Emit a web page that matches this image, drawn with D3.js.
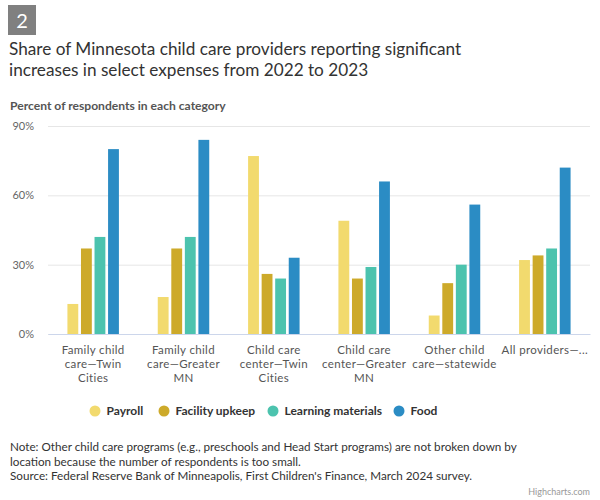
<!DOCTYPE html>
<html><head><meta charset="utf-8">
<script src="https://cdn.jsdelivr.net/npm/d3@7"></script>
<style>
body{margin:0;background:#fff;font-family:Lato,sans-serif;}
svg{display:block}
</style></head>
<body><svg id="chart" width="600" height="500"></svg>
<script>
const categories = [
  ["Family child","care\u2014Twin","Cities"],
  ["Family child","care\u2014Greater","MN"],
  ["Child care","center\u2014Twin","Cities"],
  ["Child care","center\u2014Greater","MN"],
  ["Other child","care\u2014statewide"],
  ["All providers\u2014..."]
];
const seriesNames = ["Payroll","Facility upkeep","Learning materials","Food"];
const seriesColors = ["#f2da6e","#cdaa2a","#4cc3ae","#2b8cc4"];
const payroll = [13,16,77,49,8,32];
const facility = [37,37,26,24,22,34];
const learning = [42,42,24,29,30,37];
const food = [80,84,33,66,56,72];
const yTicks = [0,30,60,90];

const series = [payroll, facility, learning, food];
const svg = d3.select("#chart");
const font = "Lato, sans-serif";

// badge
svg.append("rect").attr("x",8).attr("y",5).attr("width",28).attr("height",30).attr("fill","#808080");
svg.append("text").attr("x",22).attr("y",28).attr("text-anchor","middle").attr("fill","#fff")
  .attr("font-size",20).attr("font-family",font).text("2");

// title
const title = svg.append("text").attr("font-family",font).attr("font-size",17.2).attr("fill","#333");
title.append("tspan").attr("x",9).attr("y",55).text("Share of Minnesota child care providers reporting significant");
title.append("tspan").attr("x",9).attr("y",76).text("increases in select expenses from 2022 to 2023");

svg.append("text").attr("x",10).attr("y",110).attr("font-family",font).attr("font-size",12.1)
  .attr("font-weight","bold").attr("fill","#555").text("Percent of respondents in each category");

const x0 = d3.scaleBand().domain(d3.range(categories.length)).range([48,590]).paddingInner(0).paddingOuter(0);
const y = d3.scaleLinear().domain([0,90]).range([334,126]);

const gy = svg.append("g").attr("transform","translate(48,0)")
  .call(d3.axisLeft(y).tickValues(yTicks).tickSize(-542).tickFormat(d=>d+"%"));
gy.select(".domain").remove();
gy.selectAll(".tick line").attr("stroke","#e6e6e6");
gy.selectAll(".tick text").attr("x",-14).attr("fill","#666").attr("font-size",11).attr("font-family",font);

const bw = x0.bandwidth();
const x1 = d3.scaleBand().domain(d3.range(series.length)).range([bw*0.2, bw*0.8]).paddingInner(0.2).paddingOuter(0.1);

const groups = svg.append("g").selectAll("g").data(categories).join("g")
  .attr("transform",(d,i)=>`translate(${x0(i)},0)`);
groups.selectAll("rect").data((d,i)=>series.map((s,j)=>({j, v:s[i]}))).join("rect")
  .attr("x",d=>x1(d.j)).attr("width",x1.bandwidth())
  .attr("y",d=>y(d.v)).attr("height",d=>y(0)-y(d.v))
  .attr("fill",d=>seriesColors[d.j]);

// x axis
const gx = svg.append("g").attr("transform","translate(0,334)")
  .call(d3.axisBottom(x0).tickSize(0).tickFormat(""));
gx.select(".domain").attr("stroke","#ccd6eb");
gx.selectAll(".tick").each(function(d){
  categories[d].forEach((line,k)=>d3.select(this).append("text").attr("fill","#555").attr("font-size",11.5)
    .attr("letter-spacing",0.35).attr("font-family",font).attr("text-anchor","middle")
    .attr("x",0).attr("y",19.5+k*14).text(line));
});

// legend
const legendX = [95,164,273,399];
const lg = svg.append("g").selectAll("g").data(seriesNames).join("g")
  .attr("transform",(d,i)=>`translate(${legendX[i]},411)`);
lg.append("circle").attr("r",5.5).attr("fill",(d,i)=>seriesColors[i]);
lg.append("text").attr("x",11.5).attr("y",4.3).attr("font-family",font).attr("font-size",12)
  .attr("font-weight","bold").attr("fill","#333").text(d=>d);

// notes
const notes = ["Note: Other child care programs (e.g., preschools and Head Start programs) are not broken down by",
 "location because the number of respondents is too small.",
 "Source: Federal Reserve Bank of Minneapolis, First Children's Finance, March 2024 survey."];
notes.forEach((n,k)=>svg.append("text").attr("font-family",font).attr("font-size",11.7).attr("fill","#333")
  .attr("x",10).attr("y",451+k*14.5).text(n));

svg.append("text").attr("x",590).attr("y",495).attr("text-anchor","end").attr("font-family",font)
  .attr("font-size",9).attr("fill","#999").text("Highcharts.com");
</script></body></html>
